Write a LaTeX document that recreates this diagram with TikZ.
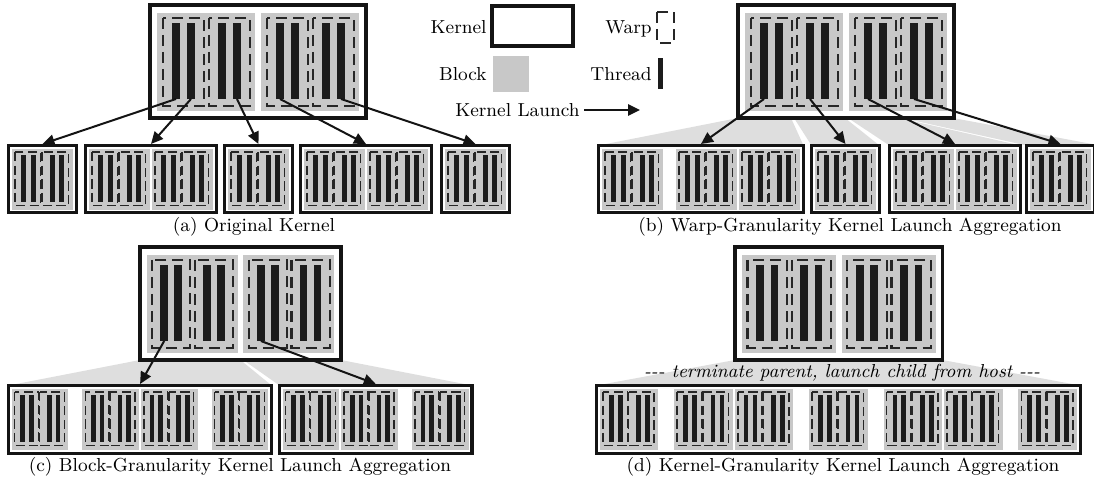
\documentclass[tikz,border=0pt]{standalone}
\usepackage{fontspec}
\usetikzlibrary{arrows.meta}
\definecolor{blockgray}{RGB}{200,200,200}
\definecolor{fangray}{RGB}{222,222,222}
\definecolor{threadblack}{RGB}{28,28,28}
\tikzset{
  kernelbox/.style={draw=black!92, line width=1.7pt, fill=white},
  warpbig/.style={draw=black!85, line width=1.1pt, dash pattern=on 5.5pt off 3pt},
  warpsmall/.style={draw=black!85, line width=0.8pt, dash pattern=on 4.6pt off 2.2pt},
  launch/.style={draw=black!92, line width=1pt, -{Triangle[length=6pt,width=5.6pt]}},
  fan/.style={fill=fangray},
  txt/.style={font=\fontsize{9.4}{11}\selectfont, inner sep=0pt},
}
% warp extents (changed for child blocks)
\def\wpA{6}\def\wpB{47}\def\wpC{52}\def\wpD{93}\def\wpY{93}
% block: x y xscale yscale warpstyle name
\newcommand{\blk}[6]{%
  \begin{scope}[shift={(#1,#2)}, xscale=#3, yscale=#4]
    \fill[blockgray] (0,0) rectangle (98,98);
    \draw[#5] (\wpA,5) rectangle (\wpB,\wpY);
    \draw[#5] (\wpC,5) rectangle (\wpD,\wpY);
    \fill[threadblack] (15,10) rectangle (23,86);
    \fill[threadblack] (30,10) rectangle (38,86);
    \fill[threadblack] (61,10) rectangle (69,86);
    \fill[threadblack] (76,10) rectangle (84,86);
    \coordinate (#6-1) at (19,86);
    \coordinate (#6-2) at (34,86);
    \coordinate (#6-3) at (65,86);
    \coordinate (#6-4) at (80,86);
  \end{scope}}
% parent kernel: x y name
\newcommand{\parentk}[3]{%
  \begin{scope}[shift={(#1,#2)}]
    \draw[kernelbox] (0,0) rectangle (216,113);
    \blk{7}{8}{1}{1}{warpbig}{#3-b1}
    \blk{111}{8}{1}{1}{warpbig}{#3-b2}
  \end{scope}}
\newcommand{\cblk}[2]{{\def\wpA{5}\def\wpB{46}\def\wpC{48}\def\wpD{91}\def\wpY{91}%
  \blk{#1}{#2}{0.622}{0.622}{warpsmall}{tmp}}}
\begin{document}
\begin{tikzpicture}[x=0.5pt, y=-0.5pt, every node/.style={txt}]
\useasboundingbox (0,0) rectangle (1094,485);

% ---------------- (a) ----------------
\parentk{150}{5}{a}
\foreach \cx/\cw in {8.5/68, 85.5/131, 224.5/68, 300.5/131, 441.5/68}{
  \draw[kernelbox] (\cx,145.5) rectangle ++(\cw,67);
}
\coordinate (a-c1) at (42.5,144);
\coordinate (a-c2) at (151,144);
\coordinate (a-c3) at (258.5,144);
\coordinate (a-c4) at (366,144);
\coordinate (a-c5) at (475.5,144);
\foreach \bx in {12, 89, 152, 228, 304, 367, 445}{ \cblk{\bx}{149} }
\draw[launch] (a-b1-1) -- (a-c1);
\draw[launch] (a-b1-2) -- (a-c2);
\draw[launch] (a-b1-4) -- (a-c3);
\draw[launch] (a-b2-1) -- (a-c4);
\draw[launch] (a-b2-4) -- (a-c5);
\node (capa) at (254,227) {(a) Original Kernel};

% ---------------- (b) ----------------
\fill[fan] (738,118) -- (791,118) -- (803.5,145.5) -- (598.5,145.5) -- cycle;
\fill[fan] (794,118) -- (845,118) -- (879.5,145.5) -- (811.5,145.5) -- cycle;
\fill[fan] (848,118) -- (899,118) -- (1020.5,145.5) -- (889.5,145.5) -- cycle;
\fill[fan] (902,118) -- (953,118) -- (1100,145.5) -- (1026.5,145.5) -- cycle;
\parentk{738}{5}{b}
\foreach \cx/\cw in {598.5/205, 811.5/68, 889.5/131, 1026.5/68}{
  \draw[kernelbox] (\cx,145.5) rectangle ++(\cw,67);
}
\coordinate (b-c1) at (701,144);
\coordinate (b-c2) at (845.5,144);
\coordinate (b-c3) at (955,144);
\coordinate (b-c4) at (1060.5,144);
\foreach \bx in {602, 676, 739, 815, 893, 956, 1030}{ \cblk{\bx}{149} }
\draw[launch] (b-b1-1) -- (b-c1);
\draw[launch] (b-b1-3) -- (b-c2);
\draw[launch] (b-b2-1) -- (b-c3);
\draw[launch] (b-b2-3) -- (b-c4);
\node (capb) at (850,227) {(b) Warp-Granularity Kernel Launch Aggregation};

% ---------------- (c) ----------------
\begin{scope}[shift={(8.5,0)}, xscale=0.93]
  \fill[fan] (141.4,360) -- (249.4,360) -- (283,385.5) -- (0,385.5) -- cycle;
  \fill[fan] (252.4,360) -- (357.4,360) -- (498.4,385.5) -- (291.4,385.5) -- cycle;
  \parentk{141.4}{247}{c}
  \draw[kernelbox] (0,385.5) rectangle ++(283,68);
  \draw[kernelbox] (291.4,385.5) rectangle ++(207,68);
  \coordinate (c-c1) at (141.5,384);
  \coordinate (c-c2) at (394.9,384);
  \foreach \bx in {3.5, 79.5, 142.5, 218.5, 294.9, 357.9, 433.9}{ \cblk{\bx}{389} }
\end{scope}
\draw[launch] (c-b1-1) -- (c-c1);
\draw[launch] (c-b2-1) -- (c-c2);
\node (capc) at (240,467) {(c) Block-Granularity Kernel Launch Aggregation};

% ---------------- (d) ----------------
\begin{scope}[shift={(596.5,0)}, xscale=0.96]
  \fill[fan] (144.3,360) -- (360.3,360) -- (504,385.5) -- (0,385.5) -- cycle;
  \parentk{144.3}{247}{d}
  \draw[kernelbox] (0,385.5) rectangle ++(504,68);
  \foreach \bx in {3.5, 81, 144, 221.5, 299, 362, 439.5}{ \cblk{\bx}{389} }
\end{scope}
\node[font=\fontsize{9.4}{11}\selectfont\itshape] (dnote) at (842,373)
  {-{}-{}- terminate parent, launch child from host -{}-{}-};
\node (capd) at (843,467) {(d) Kernel-Granularity Kernel Launch Aggregation};

% ---------------- legend ----------------
\node[anchor=east] (lgk) at (487,27) {Kernel};
\draw[kernelbox] (492,6) rectangle (573,46);
\node[anchor=east] (lgb) at (487,74) {Block};
\fill[blockgray] (493,56) rectangle (529,92);
\node[anchor=east] (lgl) at (580,110) {Kernel Launch};
\coordinate (lgs) at (584,110);
\coordinate (lge) at (640,110);
\draw[launch] (lgs) -- (lge);
\node[anchor=east] (lgw) at (652,29) {Warp};
\draw[warpbig] (657,12) rectangle (674,43);
\node[anchor=east] (lgt) at (652,74) {Thread};
\fill[threadblack] (658,58) rectangle (663,89);
\end{tikzpicture}
\end{document}
